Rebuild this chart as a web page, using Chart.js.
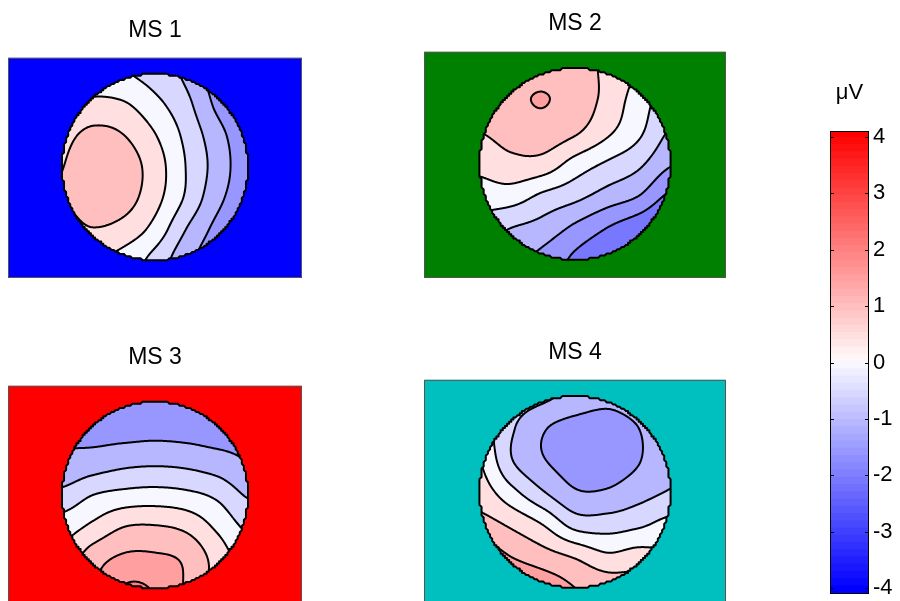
<!DOCTYPE html>
<html>
<head>
<meta charset="utf-8">
<script src="https://cdn.jsdelivr.net/npm/chart.js@4"></script>
<style>
  html, body { margin: 0; padding: 0; background: #fff; width: 900px; height: 601px; overflow: hidden; }
  .box { position: absolute; }
  .box canvas { display: block; }
</style>
</head>
<body>
<div class="box" id="box1"><canvas id="ms1"></canvas></div>
<div class="box" id="box2"><canvas id="ms2"></canvas></div>
<div class="box" id="box3"><canvas id="ms3"></canvas></div>
<div class="box" id="box4"><canvas id="ms4"></canvas></div>
<div class="box" style="left:830px;top:80px"><canvas id="cbar" width="70" height="560"></canvas></div>
<script>
// Scalp grid coordinates (head units, nose up): columns left→right, rows bottom→top
const gridAxis = [-1, -2/3, -1/3, 0, 1/3, 2/3, 1];

// Microstate maps in µV, rows listed from the top of the head (y = 1) down to y = -1
const ms1 = [
  [ 0.05,  0.00, -0.20, -0.45, -0.85, -1.50, -1.80],
  [ 0.20,  0.37,  0.31, -0.10, -0.60, -1.35, -1.80],
  [ 0.60,  0.90,  0.76,  0.28, -0.37, -1.05, -1.60],
  [ 0.74,  1.05,  1.00,  0.50, -0.26, -0.95, -1.55],
  [ 0.74,  1.00,  0.95,  0.42, -0.32, -1.10, -1.60],
  [ 0.55,  0.73,  0.57,  0.08, -0.75, -1.40, -1.90],
  [ 0.30,  0.30,  0.05, -0.42, -1.10, -1.60, -2.00]
];
const ms2 = [
  [ 0.90,  1.00,  1.10,  0.95,  0.65,  0.20, -0.30],
  [ 1.00,  1.15,  1.27,  1.05,  0.60,  0.00, -0.50],
  [ 0.75,  0.95,  1.05,  0.82,  0.35, -0.15, -0.80],
  [ 0.40,  0.60,  0.55,  0.05, -0.32, -0.65, -1.20],
  [ 0.00,  0.00, -0.35, -0.60, -0.95, -1.25, -1.85],
  [-0.50, -0.75, -0.95, -1.35, -1.75, -2.10, -2.50],
  [-0.90, -1.10, -1.40, -1.85, -2.20, -2.50, -2.80]
];
const ms3 = [
  [-1.45, -1.55, -1.62, -1.65, -1.62, -1.55, -1.45],
  [-1.30, -1.40, -1.40, -1.37, -1.40, -1.45, -1.40],
  [-1.15, -1.00, -0.85, -0.80, -0.85, -1.00, -1.22],
  [-0.60, -0.25, -0.10, -0.05, -0.13, -0.35, -0.80],
  [ 0.00,  0.35,  0.73,  0.77,  0.62,  0.15, -0.35],
  [ 0.40,  1.00,  1.32,  1.32,  1.15,  0.55,  0.00],
  [ 0.60,  1.20,  1.78,  1.70,  1.20,  0.60,  0.30]
];
const ms4 = [
  [ 0.00, -0.45, -0.65, -0.90, -1.10, -0.95, -0.80],
  [ 0.00, -0.68, -1.20, -1.45, -1.50, -1.25, -0.85],
  [ 0.25, -0.72, -1.22, -1.45, -1.50, -1.28, -0.78],
  [ 0.50, -0.10, -0.72, -1.20, -1.20, -0.95, -0.72],
  [ 0.95,  0.65,  0.22, -0.45, -0.50, -0.35, -0.10],
  [ 1.60,  1.23,  0.95,  0.68,  0.33,  0.45,  0.30],
  [ 2.00,  1.80,  1.55,  1.25,  1.05,  0.95,  0.70]
];

const mapTitles = ['MS 1', 'MS 2', 'MS 3', 'MS 4'];
const mapBackgrounds = ['#0000ff', '#008000', '#ff0000', '#00bfbf'];

// Contour levels (µV) and the colour scale
const contourLevels = [-2.75, -2.25, -1.75, -1.25, -0.75, -0.25, 0.25, 0.75, 1.25, 1.75, 2.25, 2.75];
const levelStep = 0.5;
const colorLimits = [-4, 4];
const colorbarRange = [-4.1, 4.1];
const colorbarTicks = [-4, -3, -2, -1, 0, 1, 2, 3, 4];
const nColors = 64;
const maskSteps = 90;   // resolution of the head mask across the diameter

const FONT = "'Liberation Sans', Arial, Helvetica, sans-serif";
const FONT_SIZE = 23;

// Panel placement: [left, panel top, width, height, title centre y]
const panelBoxes = [
  [8, 58, 294, 220, 31],
  [424, 52, 302, 226, 24],
  [8, 386, 294, 220, 358],
  [424, 380, 302, 226, 353]
];

// 64-entry blue-white-red colormap
function cmap(k) {
  if (k < nColors / 2) {
    const c = Math.round(255 * k / (nColors / 2));
    return [c, c, 255];
  }
  const c = Math.round(255 * (nColors - 1 - k) / (nColors / 2));
  return [255, c, c];
}
function colorIndex(v) {
  const t = (v - colorLimits[0]) / (colorLimits[1] - colorLimits[0]) * nColors;
  return Math.min(nColors - 1, Math.max(0, Math.ceil(t - 1e-9) - 1));
}

// Catmull-Rom bicubic surface through the grid
function cr(p0, p1, p2, p3, t) {
  return p1 + 0.5 * t * (p2 - p0 + t * (2 * p0 - 5 * p1 + 4 * p2 - p3 + t * (3 * (p1 - p2) + p3 - p0)));
}
function sampleGrid(G, u, v) {
  const n = G.length;
  const step = gridAxis[1] - gridAxis[0];
  const fx = (u - gridAxis[0]) / step, fy = (v - gridAxis[0]) / step;
  const i = Math.min(Math.max(Math.floor(fx), 0), n - 2);
  const j = Math.min(Math.max(Math.floor(fy), 0), n - 2);
  const tx = fx - i, ty = fy - j;
  const g = (a, b) => G[Math.min(Math.max(b, 0), n - 1)][Math.min(Math.max(a, 0), n - 1)];
  const r = [];
  for (let k = -1; k <= 2; k++) r.push(cr(g(i - 1, j + k), g(i, j + k), g(i + 1, j + k), g(i + 2, j + k), tx));
  return cr(r[0], r[1], r[2], r[3], ty);
}

// Head outline traced on the coarse mask lattice (gives the stepped rim)
function headPath(ctx, xs, ys) {
  const s = 2 / maskSteps;
  ctx.beginPath();
  const N = 480;
  for (let k = 0; k <= N; k++) {
    const t = (k / N) * Math.PI * 2;
    const u = Math.round(Math.cos(t) / s) * s;
    const v = Math.round(Math.sin(t) / s) * s;
    const px = xs.getPixelForValue(u), py = ys.getPixelForValue(v);
    if (k === 0) ctx.moveTo(px, py); else ctx.lineTo(px, py);
  }
  ctx.closePath();
}

// Draws panel background, filled contour bands, contour lines and head outline
const topoPlugin = {
  id: 'topo',
  beforeDatasetsDraw(chart, args, opts) {
    const { ctx, chartArea: a } = chart;
    const xs = chart.scales.x, ys = chart.scales.y;
    const n = gridAxis.length;
    // rebuild the grid (row index = y ascending) from the dataset points
    const G = Array.from({ length: n }, () => new Array(n).fill(0));
    chart.data.datasets[0].data.forEach(p => {
      G[gridAxis.indexOf(p.y)][gridAxis.indexOf(p.x)] = p.v;
    });

    ctx.save();
    ctx.fillStyle = opts.background;
    ctx.fillRect(a.left, a.top, a.width, a.height);

    const cx = xs.getPixelForValue(0), cy = ys.getPixelForValue(0);
    const rx = xs.getPixelForValue(1) - cx, ry = cy - ys.getPixelForValue(1);
    const x0 = Math.floor(cx - rx) - 3, x1 = Math.ceil(cx + rx) + 3;
    const y0 = Math.floor(cy - ry) - 3, y1 = Math.ceil(cy + ry) + 3;
    const W = x1 - x0 + 1, H = y1 - y0 + 1;
    const vals = new Float32Array(W * H);
    for (let j = 0; j < H; j++) {
      const v = Math.max(-1, Math.min(1, ys.getValueForPixel(y0 + j + 0.5)));
      for (let i = 0; i < W; i++) {
        const u = Math.max(-1, Math.min(1, xs.getValueForPixel(x0 + i + 0.5)));
        vals[j * W + i] = sampleGrid(G, u, v);
      }
    }
    const off = document.createElement('canvas');
    off.width = W; off.height = H;
    const octx = off.getContext('2d');
    const img = octx.createImageData(W, H);
    for (let k = 0; k < W * H; k++) {
      const mid = Math.round(vals[k] / levelStep) * levelStep;
      const c = cmap(colorIndex(mid));
      img.data[4 * k] = c[0]; img.data[4 * k + 1] = c[1]; img.data[4 * k + 2] = c[2]; img.data[4 * k + 3] = 255;
    }
    octx.putImageData(img, 0, 0);

    ctx.save();
    headPath(ctx, xs, ys);
    ctx.clip();
    ctx.drawImage(off, x0, y0);

    // marching squares on the pixel-centre lattice
    ctx.beginPath();
    for (const L of contourLevels) {
      for (let j = 0; j < H - 1; j++) {
        for (let i = 0; i < W - 1; i++) {
          const a0 = vals[j * W + i], b0 = vals[j * W + i + 1];
          const c0 = vals[(j + 1) * W + i + 1], d0 = vals[(j + 1) * W + i];
          const pts = [];
          const px = x0 + i + 0.5, py = y0 + j + 0.5;
          if ((a0 - L) * (b0 - L) < 0) pts.push([px + (L - a0) / (b0 - a0), py]);
          if ((b0 - L) * (c0 - L) < 0) pts.push([px + 1, py + (L - b0) / (c0 - b0)]);
          if ((d0 - L) * (c0 - L) < 0) pts.push([px + (L - d0) / (c0 - d0), py + 1]);
          if ((a0 - L) * (d0 - L) < 0) pts.push([px, py + (L - a0) / (d0 - a0)]);
          for (let s = 0; s + 1 < pts.length; s += 2) {
            ctx.moveTo(pts[s][0], pts[s][1]);
            ctx.lineTo(pts[s + 1][0], pts[s + 1][1]);
          }
        }
      }
    }
    ctx.lineWidth = 2;
    ctx.lineCap = 'round';
    ctx.lineJoin = 'round';
    ctx.strokeStyle = '#000';
    ctx.stroke();
    ctx.restore();

    headPath(ctx, xs, ys);
    ctx.lineWidth = 2;
    ctx.lineJoin = 'round';
    ctx.strokeStyle = '#000';
    ctx.stroke();

    ctx.strokeStyle = '#555';
    ctx.lineWidth = 1;
    ctx.strokeRect(a.left + 0.5, a.top + 0.5, a.width - 1, a.height - 1);
    ctx.restore();
  }
};

function topoChart(idx, values) {
  const [left, panelTop, w, h, titleY] = panelBoxes[idx];
  const half = FONT_SIZE * 0.6;               // half of the title line height
  const canvasTop = titleY - half;
  const box = document.getElementById('box' + (idx + 1));
  box.style.left = left + 'px';
  box.style.top = canvasTop + 'px';
  const canvas = document.getElementById('ms' + (idx + 1));
  canvas.width = w;
  canvas.height = Math.round(panelTop - canvasTop + h);

  const n = gridAxis.length;
  const pts = [];
  values.forEach((row, r) => row.forEach((val, c) => pts.push({ x: gridAxis[c], y: gridAxis[n - 1 - r], v: val })));
  return new Chart(canvas, {
    type: 'scatter',
    data: { datasets: [{ data: pts, pointRadius: 0, pointHoverRadius: 0 }] },
    options: {
      responsive: false,
      animation: false,
      events: [],
      layout: { padding: 0 },
      scales: {
        x: { type: 'linear', min: -1.58, max: 1.58, display: false },
        y: { type: 'linear', min: -1.19, max: 1.17, display: false }
      },
      plugins: {
        legend: { display: false },
        tooltip: { enabled: false },
        title: {
          display: true, text: mapTitles[idx], color: '#000',
          font: { family: FONT, size: FONT_SIZE, weight: 'normal', lineHeight: 1.2 },
          padding: { top: 0, bottom: panelTop - titleY - half }
        },
        topo: { background: mapBackgrounds[idx] }
      }
    },
    plugins: [topoPlugin]
  });
}

[ms1, ms2, ms3, ms4].forEach((m, i) => topoChart(i, m));

// Colour bar: one floating bar per colormap entry
const cbDatasets = [];
for (let k = 0; k < nColors; k++) {
  const lo = colorbarRange[0] + (colorbarRange[1] - colorbarRange[0]) * k / nColors;
  const hi = colorbarRange[0] + (colorbarRange[1] - colorbarRange[0]) * (k + 1) / nColors;
  const c = cmap(k);
  cbDatasets.push({
    data: [[lo, Math.min(colorbarRange[1], hi + 0.02)]],
    backgroundColor: `rgb(${c[0]},${c[1]},${c[2]})`,
    borderWidth: 0, grouped: false, barPercentage: 1, categoryPercentage: 1
  });
}
const cbFrame = {
  id: 'cbFrame',
  afterDatasetsDraw(chart) {
    const { ctx, chartArea: a } = chart;
    const ys = chart.scales.y;
    ctx.save();
    ctx.strokeStyle = '#000';
    ctx.lineWidth = 1;
    ctx.beginPath();
    for (const t of colorbarTicks) {
      const y = Math.round(ys.getPixelForValue(t)) + 0.5;
      ctx.moveTo(a.left, y); ctx.lineTo(a.left + 4, y);
      ctx.moveTo(a.right - 4, y); ctx.lineTo(a.right, y);
    }
    ctx.stroke();
    ctx.strokeRect(a.left + 0.5, a.top + 0.5, a.width - 1, a.height - 1);
    ctx.restore();
  }
};
new Chart(document.getElementById('cbar'), {
  type: 'bar',
  data: { labels: [''], datasets: cbDatasets },
  options: {
    responsive: false,
    animation: false,
    events: [],
    layout: { padding: { top: 0, bottom: 46, left: 0, right: 0 } },
    scales: {
      x: { display: false },
      y: {
        position: 'right',
        min: colorbarRange[0], max: colorbarRange[1],
        afterFit(scale) { scale.width = 31; },
        afterBuildTicks(scale) { scale.ticks = colorbarTicks.map(v => ({ value: v })); },
        grid: { display: false, drawTicks: false },
        border: { display: false },
        ticks: { color: '#000', padding: 4, font: { family: FONT, size: FONT_SIZE - 1 } }
      }
    },
    plugins: {
      legend: { display: false },
      tooltip: { enabled: false },
      title: {
        display: true, text: 'μV', color: '#000', fullSize: false,
        font: { family: FONT, size: FONT_SIZE - 1, weight: 'normal', lineHeight: 1.2 },
        padding: { top: 0, bottom: 51 - (FONT_SIZE - 1) * 1.2 }
      }
    }
  },
  plugins: [cbFrame]
});
</script>
</body>
</html>
